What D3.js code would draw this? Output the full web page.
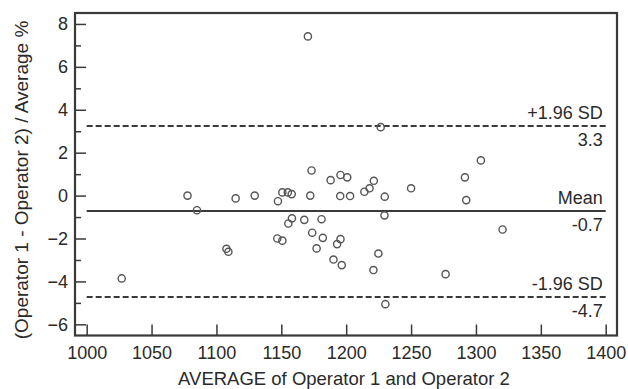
<!DOCTYPE html>
<html>
<head>
<meta charset="utf-8">
<script src="https://cdn.jsdelivr.net/npm/d3@7"></script>
<style>
  body { margin: 0; background: #fff; }
  svg { display: block; font-family: "Liberation Sans", Arial, sans-serif; }
</style>
</head>
<body>
<svg id="chart"></svg>
<script>
// Bland-Altman data
const avgValues = [1027, 1077.7, 1085, 1107.7, 1109.2, 1114.8, 1129.5, 1146.9, 1147.4, 1150.8,
  1150.8, 1155, 1155.4, 1158, 1158.2, 1167.7, 1170.5, 1172.3, 1173.3, 1173.8,
  1177.2, 1181, 1182, 1188, 1190.2, 1193, 1195.4, 1195.6, 1195.6, 1196.6,
  1200.8, 1203, 1214, 1218, 1221, 1221.3, 1224.8, 1226.6, 1229.5, 1229.7,
  1230.2, 1250, 1276.6, 1291.5, 1292.5, 1303.8, 1320.5];
const diffValues = [-3.86, 0.0, -0.68, -2.48, -2.62, -0.13, 0.0, -2.0, -0.26, 0.15,
  -2.1, 0.15, -1.3, 0.07, -1.06, -1.13, 7.42, 0.0, 1.17, -1.73,
  -2.46, -1.1, -1.97, 0.72, -2.98, -2.26, -0.02, 0.96, -2.03, -3.24,
  0.85, -0.02, 0.18, 0.34, -3.47, 0.69, -2.7, 3.19, -0.92, -0.05,
  -5.06, 0.34, -3.66, 0.85, -0.21, 1.64, -1.58];

const refNames = ["+1.96 SD", "Mean", "-1.96 SD"];
const refValues = [3.24, -0.72, -4.72];
const refLabels = ["3.3", "-0.7", "-4.7"];

const xTicks = [1000, 1050, 1100, 1150, 1200, 1250, 1300, 1350, 1400];
const yTicks = [-6, -4, -2, 0, 2, 4, 6, 8];
const yMinorTicks = [-5, -3, -1, 1, 3, 5, 7];

const width = 628, height = 389;
const plotLeft = 75, plotRight = 617, plotTop = 13, plotBottom = 335.5;
const ink = "#3a3a3a";

const svg = d3.select("#chart").attr("width", width).attr("height", height);

const x = d3.scaleLinear().domain([991, 1408.7]).range([plotLeft, plotRight]);
const y = d3.scaleLinear().domain([-6.52, 8.51]).range([plotBottom, plotTop]);

// axes (ticks point inwards)
const xAxis = svg.append("g")
  .attr("transform", `translate(0,${plotBottom})`)
  .call(d3.axisBottom(x).tickValues(xTicks).tickSize(-11).tickPadding(11).tickFormat(d3.format("d")));
const yAxis = svg.append("g")
  .attr("transform", `translate(${plotLeft},0)`)
  .call(d3.axisLeft(y).tickValues(yTicks).tickSize(-11).tickPadding(7));
const yMinor = svg.append("g")
  .attr("transform", `translate(${plotLeft},0)`)
  .call(d3.axisLeft(y).tickValues(yMinorTicks).tickSize(-6).tickFormat(""));

[xAxis, yAxis, yMinor].forEach(g => {
  g.select(".domain").remove();
  g.selectAll(".tick line").attr("stroke", ink).attr("stroke-width", 1.5);
  g.selectAll(".tick text").attr("fill", "#2a2a2a").style("font-size", "18px");
});

// frame
svg.append("rect")
  .attr("x", plotLeft).attr("y", plotTop)
  .attr("width", plotRight - plotLeft).attr("height", plotBottom - plotTop)
  .attr("fill", "none").attr("stroke", ink).attr("stroke-width", 2.2);

// mean and limits of agreement
const refs = refValues.map((v, i) => ({ v, name: refNames[i], label: refLabels[i] }));
svg.selectAll(".ref")
  .data(refs)
  .enter()
  .append("line")
  .attr("class", "ref")
  .attr("x1", x(1000)).attr("x2", x(1400))
  .attr("y1", d => y(d.v)).attr("y2", d => y(d.v))
  .attr("stroke", ink)
  .attr("stroke-width", 2)
  .attr("stroke-dasharray", d => d.name === "Mean" ? null : "6,3");

svg.selectAll(".refname")
  .data(refs)
  .enter()
  .append("text")
  .attr("x", x(1400) - 3)
  .attr("y", d => y(d.v) - 7)
  .attr("text-anchor", "end")
  .attr("fill", "#2a2a2a")
  .style("font-size", "18px")
  .text(d => d.name);

svg.selectAll(".reflabel")
  .data(refs)
  .enter()
  .append("text")
  .attr("x", x(1400) - 3)
  .attr("y", d => y(d.v) + 20)
  .attr("text-anchor", "end")
  .attr("fill", "#2a2a2a")
  .style("font-size", "18px")
  .text(d => d.label);

// points
svg.selectAll(".pt")
  .data(avgValues.map((a, i) => [a, diffValues[i]]))
  .enter()
  .append("circle")
  .attr("class", "pt")
  .attr("cx", d => x(d[0]))
  .attr("cy", d => y(d[1]))
  .attr("r", 3.6)
  .attr("fill", "none")
  .attr("stroke", "#555")
  .attr("stroke-width", 1.4);

// axis titles
svg.append("text")
  .attr("x", 344).attr("y", 385)
  .attr("text-anchor", "middle")
  .attr("fill", "#2a2a2a")
  .style("font-size", "18.5px")
  .text("AVERAGE of Operator 1 and Operator 2");

svg.append("text")
  .attr("transform", "translate(28,180) rotate(-90)")
  .attr("text-anchor", "middle")
  .attr("fill", "#2a2a2a")
  .style("font-size", "19px")
  .text("(Operator 1 - Operator 2) / Average %");
</script>
</body>
</html>
